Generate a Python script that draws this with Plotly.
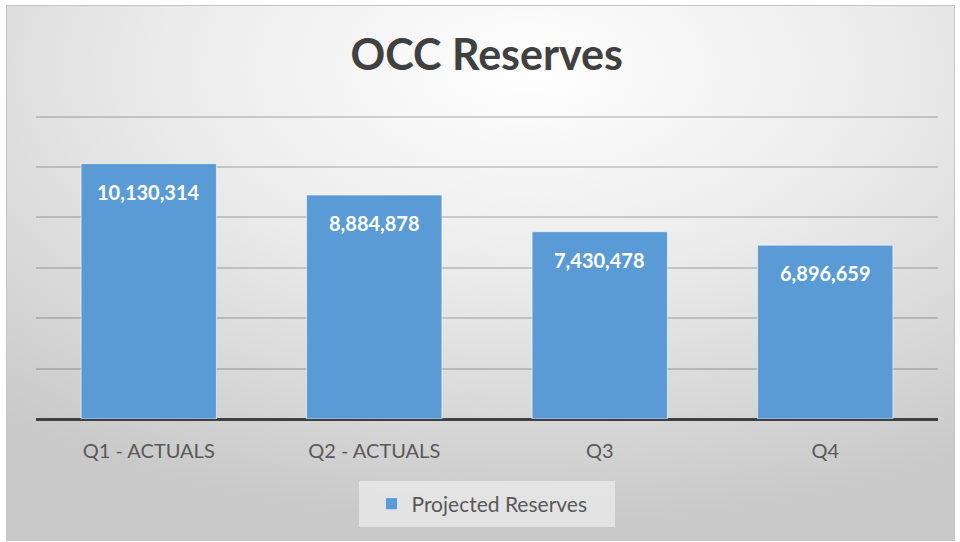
import base64
import plotly.graph_objects as go

quarters = ['Q1 - ACTUALS', 'Q2 - ACTUALS', 'Q3', 'Q4']
reserves = [10130314, 8884878, 7430478, 6896659]
series_name = 'Projected Reserves'
y_ticks = [0, 2000000, 4000000, 6000000, 8000000, 10000000, 12000000]

W, H = 960, 542
L, R, T, B = 36, 22, 114, 123
pw, ph = W - L - R, H - T - B

# excel-like radial gradient chart area, drawn as an svg behind everything
svg = f"""<svg xmlns='http://www.w3.org/2000/svg' width='{W}' height='{H}' viewBox='0 0 {W} {H}'>
<defs><radialGradient id='g' cx='0.55' cy='0.12' r='0.85'>
<stop offset='0' stop-color='#ffffff'/>
<stop offset='0.45' stop-color='#ebebeb'/>
<stop offset='1' stop-color='#c9c9c9'/>
</radialGradient></defs>
<rect x='0' y='0' width='{W}' height='{H}' fill='#ffffff'/>
<rect x='6.5' y='5.5' width='948' height='535' fill='url(#g)' stroke='#c4c4c4' stroke-width='1'/>
</svg>"""
bg_src = 'data:image/svg+xml;base64,' + base64.b64encode(svg.encode()).decode()

fig = go.Figure()
fig.add_trace(go.Bar(
    x=quarters, y=reserves, name=series_name,
    marker=dict(color='#5b9bd5', line=dict(color='rgba(255,255,255,0.55)', width=1)),
    showlegend=True,
))

# value labels inside the top of each bar
for q, v in zip(quarters, reserves):
    fig.add_annotation(x=q, y=v, text=f'<b>{v:,}</b>', showarrow=False,
                       yanchor='top', yshift=-14,
                       font=dict(family='Lato', size=20, color='white'))

fig.add_layout_image(dict(source=bg_src, xref='paper', yref='paper',
                          x=-L / pw, y=(H - B) / ph, sizex=W / pw, sizey=H / ph,
                          xanchor='left', yanchor='top', sizing='stretch', layer='below'))

# legend backdrop
fig.add_shape(type='rect', xref='paper', yref='paper',
              x0=(359 - L) / pw, x1=(615 - L) / pw,
              y0=(H - B - 481) / ph, y1=(H - B - 527) / ph,
              fillcolor='rgba(235,235,235,0.75)', line=dict(width=0), layer='below')

fig.update_layout(
    width=W, height=H,
    margin=dict(l=L, r=R, t=T, b=B),
    paper_bgcolor='rgba(0,0,0,0)',
    plot_bgcolor='rgba(0,0,0,0)',
    bargap=0.4,
    title=dict(text='<b>OCC Reserves</b>', x=0.507, xanchor='center',
               y=1 - 55 / H, yanchor='middle',
               font=dict(family='Lato', size=43, color='#404040')),
    font=dict(family='Lato', color='#595959'),
    legend=dict(orientation='h', x=0.5 - 5 / pw, xanchor='center',
                y=(H - B - 504) / ph, yanchor='middle',
                bgcolor='rgba(0,0,0,0)', font=dict(family='Lato', size=21, color='#595959')),
)
fig.update_xaxes(showgrid=False, showline=False, ticks='outside', ticklen=0,
                 ticklabelstandoff=14,
                 tickfont=dict(family='Lato', size=20, color='#595959'))
fig.update_yaxes(range=[0, 12100000], tickvals=y_ticks, showticklabels=False,
                 showgrid=True, gridcolor='rgba(0,0,0,0.16)', gridwidth=2,
                 zeroline=True, zerolinecolor='#404040', zerolinewidth=3)

# drop the default body margin so the chart sits at the page corner
fig.write_html('out.html', config={'displayModeBar': False},
               post_script="document.body.style.margin='0px';")
